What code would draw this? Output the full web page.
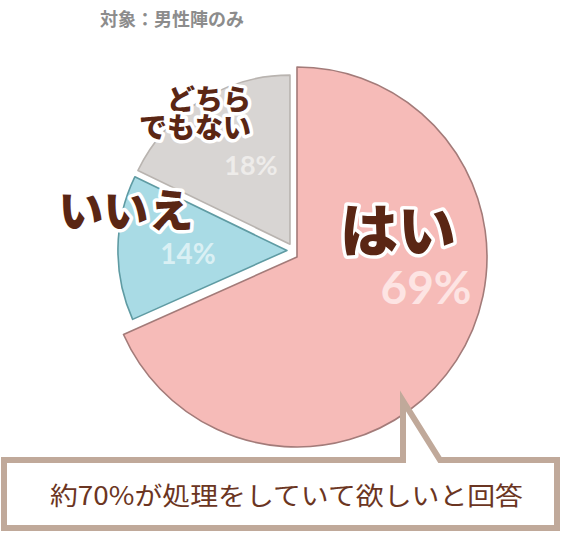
<!DOCTYPE html>
<html lang="ja">
  <head>
    <meta charset="UTF-8" />
    <title>男性陣アンケート</title>
    <script src="https://cdn.jsdelivr.net/npm/d3@7"></script>
    <style>
      body {
        margin: 0;
        background: #fff;
      }
      text {
        font-family: 'Noto Sans CJK JP', sans-serif;
      }
      .pct {
        font-family: Lato, 'Noto Sans', sans-serif;
        font-weight: bold;
      }
      .answer {
        font-weight: 900;
        fill: #5a2614;
        stroke: #fff;
        stroke-width: 7;
        stroke-linejoin: round;
        paint-order: stroke;
      }
    </style>
  </head>
  <body>
    <div id="chart"></div>
    <script>
      // data
      const answers = ['はい', 'いいえ', 'どちらでもない']
      const shares = [69, 14, 18]
      const answerLines = [['はい'], ['いいえ'], ['どちら', 'でもない']]
      const title = '対象：男性陣のみ'
      const note = '約70%が処理をしていて欲しいと回答'

      const width = 570
      const height = 537
      const cx = 297
      const cy = 257
      const bigR = 190
      const smallR = 169

      const fills = ['#f6bbb8', '#a9dbe5', '#d8d5d3']
      const strokes = ['#a37b79', '#5f9ba3', '#b9b4b0']
      const pctFills = ['#fde4e3', '#daf0f4', '#eeecea']

      // label placement, offsets from pie centre
      const answerPos = [
        { dx: 101, dy: -5, size: 58, anchor: 'middle' },
        { dx: -171, dy: -29, size: 45, anchor: 'middle' },
        { dx: -46, dy: -147, size: 28, anchor: 'end', lead: 28 },
      ]
      const pctPos = [
        { dx: 129, dy: 47, size: 46 },
        { dx: -109, dy: 7, size: 28 },
        { dx: -46, dy: -82, size: 27 },
      ]

      const svg = d3
        .select('#chart')
        .append('svg')
        .attr('width', width)
        .attr('height', height)

      svg
        .append('text')
        .attr('x', 100)
        .attr('y', 26)
        .attr('font-size', 18)
        .attr('font-weight', 'bold')
        .attr('fill', '#8c8c8c')
        .text(title)

      const pie = d3
        .pie()
        .sort(null)
        .value(d => d)
      const slices = pie(shares)

      // the two small slices are pulled out together, the grey one a little more
      const gm = (slices[1].startAngle + slices[2].endAngle) / 2
      const groupShift = [Math.sin(gm) * 12, -Math.cos(gm) * 12]
      const b = slices[2].startAngle
      const offsets = [
        [0, 0],
        groupShift,
        [groupShift[0] + Math.cos(b) * 7, groupShift[1] + Math.sin(b) * 7],
      ]

      const arc = d3
        .arc()
        .innerRadius(0)
        .outerRadius(d => (d.index === 0 ? bigR : smallR))

      const g = svg.append('g').attr('transform', `translate(${cx},${cy})`)

      g.selectAll('path')
        .data(slices)
        .enter()
        .append('path')
        .attr('transform', d => `translate(${offsets[d.index][0]},${offsets[d.index][1]})`)
        .attr('d', arc)
        .attr('fill', d => fills[d.index])
        .attr('stroke', d => strokes[d.index])
        .attr('stroke-width', 1.6)
        .attr('stroke-linejoin', 'round')

      // callout box
      svg
        .append('path')
        .attr('d', 'M4,460 H403 V401 L440,460 H557 V528 H4 Z')
        .attr('fill', '#fff')
        .attr('stroke', '#c0a99a')
        .attr('stroke-width', 6)

      svg
        .append('text')
        .attr('x', 50)
        .attr('y', 505)
        .attr('font-size', 25)
        .attr('fill', '#6b3522')
        .attr('textLength', 473)
        .attr('lengthAdjust', 'spacingAndGlyphs')
        .text(note)

      // percentages
      g.selectAll('.pct')
        .data(slices)
        .enter()
        .append('text')
        .attr('class', 'pct')
        .attr('x', d => pctPos[d.index].dx)
        .attr('y', d => pctPos[d.index].dy)
        .attr('font-size', d => pctPos[d.index].size)
        .attr('text-anchor', 'middle')
        .attr('fill', d => pctFills[d.index])
        .text(d => d.data + '%')

      // answer labels
      const labels = g
        .selectAll('.answer')
        .data(slices)
        .enter()
        .append('text')
        .attr('class', 'answer')
        .attr('font-size', d => answerPos[d.index].size)
        .attr('text-anchor', d => answerPos[d.index].anchor)

      labels
        .selectAll('tspan')
        .data(d => answerLines[d.index].map((t, i) => ({ t, i, p: answerPos[d.index] })))
        .enter()
        .append('tspan')
        .attr('x', d => d.p.dx)
        .attr('y', d => d.p.dy + d.i * (d.p.lead || 0))
        .text(d => d.t)

      labels.append('title').text(d => answers[d.index])
    </script>
  </body>
</html>
